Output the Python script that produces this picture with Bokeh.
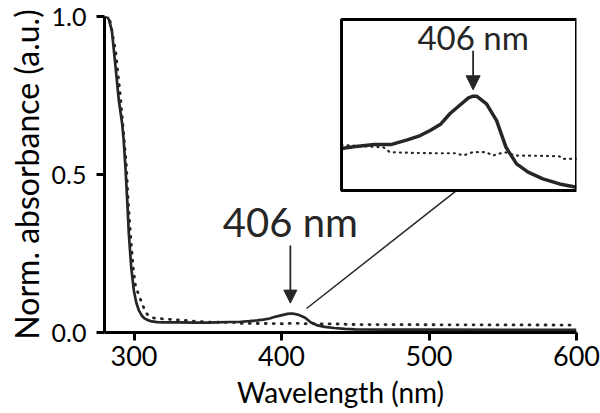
from bokeh.plotting import figure
from bokeh.models import Range1d, Arrow, NormalHead, BoxAnnotation, Label
from bokeh.embed import file_html
from bokeh.resources import INLINE
import numpy as np

# ---------------- data ----------------
wl_solid = [280, 282, 283, 285, 287.5, 289.7, 292, 293, 294.2, 295.4, 296.5, 298.1, 299.9,
            301.5, 303.3, 305.5, 307, 309, 312, 315.7, 320, 330, 340, 350, 356, 364, 371,
            378, 383.5, 387.7, 392, 396.2, 399.7, 404, 406, 407.5, 411.7, 416, 420, 424.5,
            429.4, 435.7, 442.8, 450, 470, 500, 550, 600]
abs_solid = [1.0, 0.998, 0.99, 0.955, 0.84, 0.735, 0.66, 0.608, 0.523, 0.418, 0.312, 0.207, 0.133,
             0.095, 0.07, 0.052, 0.045, 0.04, 0.035, 0.033, 0.032, 0.032, 0.031, 0.031, 0.0321, 0.0332, 0.0332,
             0.0358, 0.0382, 0.041, 0.0443, 0.0504, 0.0543, 0.0591, 0.0600, 0.0600, 0.0558, 0.0465, 0.0317, 0.0225,
             0.0179, 0.0142, 0.0114, 0.0096, 0.0092, 0.009, 0.0086, 0.0082]

wl_dot = [280, 283.6, 287.5, 290.8, 293, 294.9, 296, 297.6, 299.4, 301, 303.3, 305.6, 307.8,
          310, 313.4, 320.2, 330, 338, 350, 360, 367.8, 370.6, 380, 390, 398.9, 401.7, 405.9,
          411.6, 414.4, 419.4, 424.3, 435, 442.7, 444, 450, 500, 550, 600]
abs_dot = [1.0, 0.99, 0.892, 0.745, 0.629, 0.523, 0.418, 0.312, 0.207, 0.149, 0.117, 0.091, 0.064,
           0.053, 0.046, 0.043, 0.040, 0.037, 0.0330, 0.0322, 0.0317, 0.029, 0.0286, 0.0284, 0.0284, 0.0271, 0.029,
           0.029, 0.0271, 0.029, 0.0271, 0.027, 0.0267, 0.0253, 0.0253, 0.0245, 0.024, 0.0235]

x_ticks = [300, 400, 500, 600]
y_ticks = [0.0, 0.5, 1.0]
y_tick_labels = ["0.0", "0.5", "1.0"]
peak_wl = 406
peak_label = "406 nm"

# inset: source window (data) and target box (main coordinates)
inset_src_x = (350, 450)
inset_src_y = (0.0077, 0.1025)
inset_box_x = (440.7, 600.0)
inset_box_y = (0.449, 0.9905)

INK = "#262626"
FONT = "Lato"

p = figure(width=600, height=413, x_range=Range1d(280, 600), y_range=Range1d(0, 1.0),
           output_backend="svg", toolbar_location=None,
           min_border_left=104, min_border_right=24, min_border_top=16, min_border_bottom=81)
p.outline_line_color = None
p.grid.visible = False
p.background_fill_color = "white"

p.line(wl_solid, abs_solid, line_color=INK, line_width=2.7)
p.line(wl_dot, abs_dot, line_color=INK, line_width=2.8, line_dash="1 7", line_cap="round")

# axes
for ax in (p.xaxis[0], p.yaxis[0]):
    ax.axis_line_width = 3
    ax.axis_line_color = "black"
    ax.major_tick_line_width = 3
    ax.major_tick_line_color = "black"
    ax.major_tick_in = 0
    ax.major_tick_out = 8
    ax.minor_tick_line_color = None
    ax.major_label_text_font = FONT
    ax.axis_label_text_font = FONT
    ax.axis_label_text_font_style = "normal"
    ax.major_label_text_color = "black"
    ax.axis_label_text_color = "black"

p.xaxis.ticker = x_ticks
p.yaxis.ticker = y_ticks
p.yaxis.major_label_overrides = {t: l for t, l in zip(y_ticks, y_tick_labels)}
p.xaxis.major_label_text_font_size = "27px"
p.yaxis.major_label_text_font_size = "25px"
p.xaxis.axis_label_text_font_size = "28px"
p.yaxis.axis_label_text_font_size = "32px"
p.xaxis.axis_label = "Wavelength (nm)"
p.yaxis.axis_label = "Norm. absorbance (a.u.)"
p.xaxis.major_label_standoff = 5
p.yaxis.major_label_standoff = 10
p.xaxis.axis_label_standoff = 6
p.yaxis.axis_label_standoff = 3

# main annotation
p.add_layout(Arrow(end=NormalHead(size=13, fill_color=INK, line_color=INK, line_width=1),
                   x_start=peak_wl, y_start=0.275, x_end=peak_wl, y_end=0.093,
                   line_color=INK, line_width=1.8))
p.add_layout(Label(x=peak_wl, y=0.35, text=peak_label, text_align="center",
                   text_baseline="alphabetic", text_font=FONT, text_font_size="40px",
                   text_color=INK))

# connector line from peak to inset
p.segment(x0=[417], y0=[0.076], x1=[518.6], y1=[inset_box_y[0]], line_color=INK, line_width=1.5)

# inset
wl_s = np.array(wl_solid); ab_s = np.array(abs_solid)
wl_d = np.array(wl_dot); ab_d = np.array(abs_dot)
ms = (wl_s >= inset_src_x[0]) & (wl_s <= inset_src_x[1])
md = (wl_d >= inset_src_x[0]) & (wl_d <= inset_src_x[1])
sub = p.subplot(x_source=Range1d(*inset_src_x), y_source=Range1d(*inset_src_y),
                x_target=Range1d(*inset_box_x), y_target=Range1d(*inset_box_y))
sub.line(wl_s[ms], ab_s[ms], line_color=INK, line_width=3.5, line_join="round")
sub.line(wl_d[md], ab_d[md], line_color=INK, line_width=2.2, line_dash="1 5", line_cap="round")

p.add_layout(BoxAnnotation(left=inset_box_x[0], right=inset_box_x[1],
                           bottom=inset_box_y[0], top=inset_box_y[1],
                           fill_alpha=0, line_color="black", line_width=3, line_alpha=1))

def to_main_x(w):
    return inset_box_x[0] + (w - inset_src_x[0]) / (inset_src_x[1] - inset_src_x[0]) * (inset_box_x[1] - inset_box_x[0])

ix = to_main_x(peak_wl)
p.add_layout(Arrow(end=NormalHead(size=14, fill_color=INK, line_color=INK, line_width=1),
                   x_start=ix, y_start=0.892, x_end=ix, y_end=0.768,
                   line_color=INK, line_width=1.8))
p.add_layout(Label(x=ix, y=0.935, text=peak_label, text_align="center",
                   text_baseline="alphabetic", text_font=FONT, text_font_size="33px",
                   text_color=INK))

open("out.html", "w").write(file_html(p, INLINE))
